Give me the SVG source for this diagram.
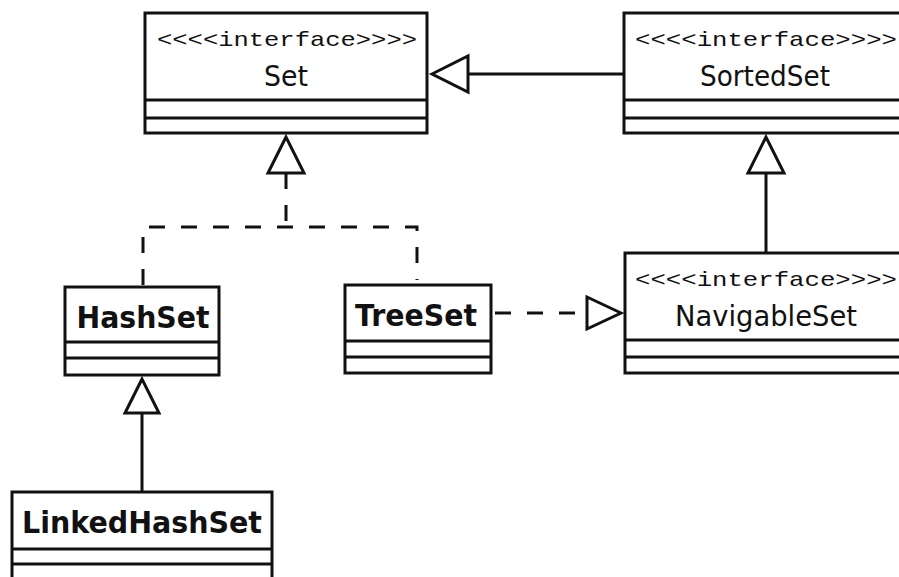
<svg xmlns="http://www.w3.org/2000/svg" width="899" height="577" viewBox="0 0 899 577">
<style>
.box{fill:#fff;stroke:#111;stroke-width:3}
.sep{stroke:#111;stroke-width:3}
.st{font-family:"Liberation Mono","DejaVu Sans Mono",monospace;font-size:21px;fill:#111}
.nm{font-family:"DejaVu Sans","Liberation Sans",sans-serif;font-size:29px;fill:#111}
.bn{font-family:"DejaVu Sans","Liberation Sans",sans-serif;font-size:31px;font-weight:bold;fill:#111}
.ln{fill:none;stroke:#111;stroke-width:3}
.dl{fill:none;stroke:#111;stroke-width:3;stroke-dasharray:16 16}
.tri{fill:#fff;stroke:#111;stroke-width:3;stroke-linejoin:miter}
</style>
<rect width="899" height="577" fill="#fff"/>
<g id="connectors">
<path class="ln" d="M624 74 H468"/>
<polygon class="tri" points="432,74 468,56 468,92"/>
<path class="dl" d="M286 173 V227"/>
<path class="dl" d="M143 285 V227 H417 V280"/>
<polygon class="tri" points="286,137 268,173 304,173"/>
<path class="ln" d="M766 253 V173"/>
<polygon class="tri" points="766,137 748,173 784,173"/>
<path class="dl" d="M491 313 H587" style="stroke-dashoffset:-4"/>
<polygon class="tri" points="621,313 587,297 587,329"/>
<path class="ln" d="M142 492 V413"/>
<polygon class="tri" points="142,379 125,413 159,413"/>
</g>
<g id="Set">
<rect class="box" x="145" y="13" width="282" height="120"/>
<line class="sep" x1="145" y1="100" x2="427" y2="100"/>
<line class="sep" x1="145" y1="118" x2="427" y2="118"/>
<text class="st" x="287" y="46" text-anchor="middle" textLength="260" lengthAdjust="spacingAndGlyphs">&lt;&lt;&lt;&lt;interface&gt;&gt;&gt;&gt;</text>
<text class="nm" x="286" y="86" text-anchor="middle" textLength="44" lengthAdjust="spacingAndGlyphs">Set</text>
</g>
<g id="SortedSet">
<rect class="box" x="624" y="13" width="280" height="120"/>
<line class="sep" x1="624" y1="100" x2="904" y2="100"/>
<line class="sep" x1="624" y1="118" x2="904" y2="118"/>
<text class="st" x="766" y="46" text-anchor="middle" textLength="262" lengthAdjust="spacingAndGlyphs">&lt;&lt;&lt;&lt;interface&gt;&gt;&gt;&gt;</text>
<text class="nm" x="765" y="86" text-anchor="middle" textLength="130" lengthAdjust="spacingAndGlyphs">SortedSet</text>
</g>
<g id="NavigableSet">
<rect class="box" x="625" y="253" width="280" height="120"/>
<line class="sep" x1="625" y1="340" x2="905" y2="340"/>
<line class="sep" x1="625" y1="357" x2="905" y2="357"/>
<text class="st" x="766" y="286" text-anchor="middle" textLength="262" lengthAdjust="spacingAndGlyphs">&lt;&lt;&lt;&lt;interface&gt;&gt;&gt;&gt;</text>
<text class="nm" x="766" y="326" text-anchor="middle" textLength="182" lengthAdjust="spacingAndGlyphs">NavigableSet</text>
</g>
<g id="HashSet">
<rect class="box" x="65" y="287" width="154" height="88"/>
<line class="sep" x1="65" y1="342" x2="219" y2="342"/>
<line class="sep" x1="65" y1="358" x2="219" y2="358"/>
<text class="bn" x="143" y="328" text-anchor="middle" textLength="133" lengthAdjust="spacingAndGlyphs">HashSet</text>
</g>
<g id="TreeSet">
<rect class="box" x="345" y="285" width="146" height="88"/>
<line class="sep" x1="345" y1="341" x2="491" y2="341"/>
<line class="sep" x1="345" y1="357" x2="491" y2="357"/>
<text class="bn" x="416" y="326" text-anchor="middle" textLength="122" lengthAdjust="spacingAndGlyphs">TreeSet</text>
</g>
<g id="LinkedHashSet">
<rect class="box" x="12" y="492" width="260" height="100"/>
<line class="sep" x1="12" y1="549" x2="272" y2="549"/>
<line class="sep" x1="12" y1="564" x2="272" y2="564"/>
<text class="bn" x="142" y="533" text-anchor="middle" textLength="240" lengthAdjust="spacingAndGlyphs">LinkedHashSet</text>
</g>
</svg>
